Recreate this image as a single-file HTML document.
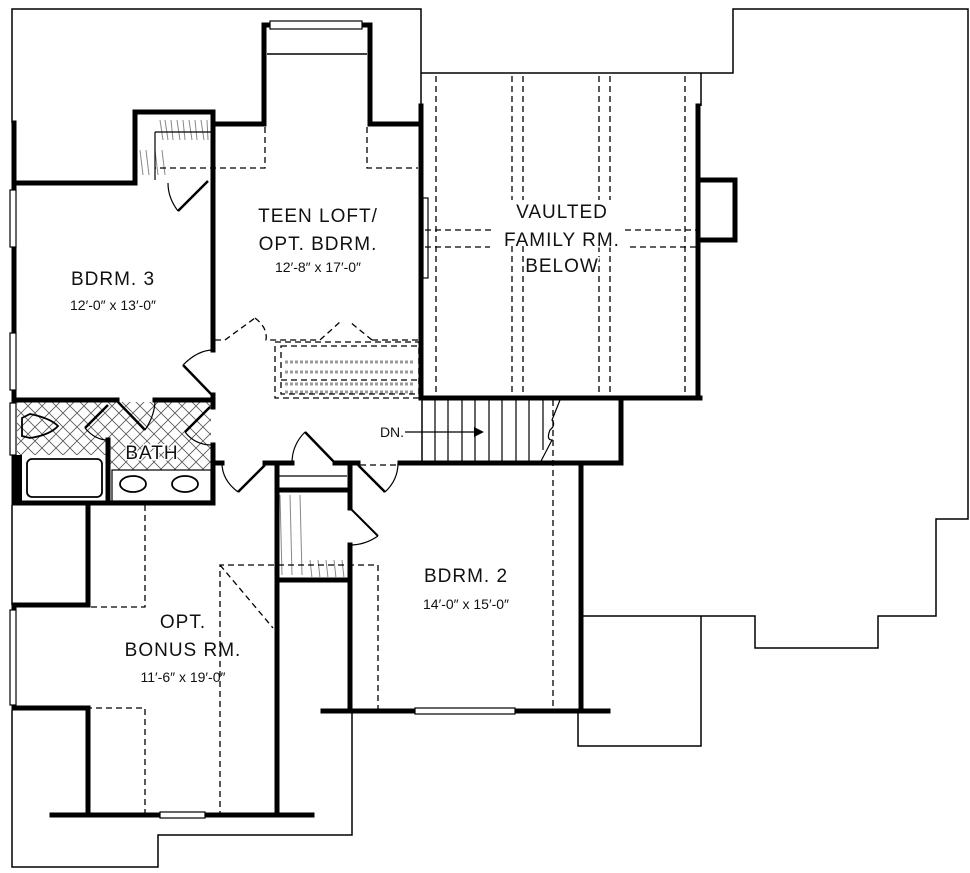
<!DOCTYPE html>
<html><head><meta charset="utf-8"><style>
html,body{margin:0;padding:0;background:#fff;}
svg{display:block;}
text{font-family:"Liberation Sans",sans-serif;fill:#111;}
.big{font-size:19px;letter-spacing:1px;}
.sm{font-size:14px;}
</style></head><body>
<svg width="970" height="873" viewBox="0 0 970 873" xmlns="http://www.w3.org/2000/svg">
<defs>
<pattern id="hx" width="14" height="14" patternUnits="userSpaceOnUse">
<path d="M0 0L14 14M14 0L0 14" stroke="#555" stroke-width="0.8"/>
</pattern>
</defs>
<g fill="none" stroke="#000" stroke-width="1.5">
<polyline points="12,123 12,9 421,9 421,105"/>
<polyline points="421,73 733,73 733,9 968,9 968,519 936,519 936,616 878,616 878,648 755,648 755,616 581,616"/>
<polyline points="701,73 701,106"/>
<polyline points="701,616 701,746 578,746 578,711"/>
<polyline points="12,505 12,605"/>
<polyline points="12,710 12,867 158,867 158,835 352,835 352,711"/>
<line x1="267" y1="54" x2="367" y2="54"/>
<line x1="422" y1="398" x2="422" y2="463"/>
</g>
<rect x="17" y="402" width="194" height="68" fill="url(#hx)"/>
<rect x="17" y="455" width="90" height="46" fill="#fff"/>
<rect x="112" y="470" width="99" height="31" fill="#fff"/>
<g stroke="#000" stroke-width="5" fill="none" stroke-linecap="square">
<polyline points="14,123 14,190"/><polyline points="14,247 14,333"/><polyline points="14,390 14,403"/><polyline points="14,455 14,503"/>
<polyline points="14,183 135,183 135,112 213,112 213,350"/>
<polyline points="213,124 264,124 264,25 270,25"/>
<polyline points="362,25 370,25 370,124 421,124"/>
<polyline points="421,106 421,398 700,398"/>
<polyline points="698,106 698,398"/>
<polyline points="698,180 735,180 735,240 698,240"/>
<polyline points="621,398 621,463 400,463"/>
<polyline points="14,400 117,400"/><polyline points="155,400 213,400 213,407"/>
<polyline points="213,395 213,405"/><polyline points="213,445 213,503 14,503"/>
<polyline points="213,463 222,463"/><polyline points="265,463 292,463"/><polyline points="335,463 358,463"/>
<polyline points="108,440 108,500"/>
<polyline points="88,505 88,605 14,605 14,610"/>
<polyline points="14,705 14,708 88,708 88,815"/>
<polyline points="52,815 160,815"/><polyline points="205,815 312,815"/>
<polyline points="277,463 277,815"/>
<polyline points="277,490 347,490"/><polyline points="277,580 347,580"/>
<polyline points="350,463 350,508"/><polyline points="350,545 350,711"/>
<polyline points="323,711 415,711"/><polyline points="515,711 608,711"/>
<polyline points="581,463 581,711"/>
</g>
<rect x="12" y="455" width="10" height="50" fill="#000"/>
<g fill="#fff" stroke="#000" stroke-width="1.2">
<rect x="270" y="21" width="92" height="8"/>
<rect x="10" y="190" width="6" height="57"/><rect x="10" y="333" width="6" height="57"/><rect x="10" y="403" width="6" height="52"/>
<rect x="10" y="610" width="6" height="95"/>
<rect x="160" y="812" width="45" height="6"/>
<rect x="415" y="708" width="100" height="6"/>
<rect x="423" y="198" width="5" height="80"/>
</g>
<g stroke="#000" stroke-width="1.2" fill="none">
<line x1="278" y1="476" x2="347" y2="476"/>
<rect x="27" y="459" width="75" height="38" rx="5" stroke-width="1.8"/>
<path d="M22 418 L30 414 Q50 418 58 426 Q50 435 30 438 L22 436 Z" stroke-width="1.8"/>
<ellipse cx="133" cy="484" rx="13" ry="8" stroke-width="1.8"/>
<ellipse cx="185" cy="484" rx="13" ry="8" stroke-width="1.8"/>
<rect x="112" y="470" width="99" height="31"/>
<line x1="183" y1="365" x2="212" y2="395" stroke-width="2.5"/><path d="M183 365 Q198 350 213 350"/>
<line x1="118" y1="402" x2="145" y2="430" stroke-width="2.5"/><path d="M145 430 Q155 415 155 400"/>
<line x1="85" y1="428" x2="108" y2="405" stroke-width="2.5"/><path d="M85 428 Q95 440 108 440"/>
<line x1="185" y1="432" x2="210" y2="407" stroke-width="2.5"/><path d="M185 432 Q195 445 212 445"/>
<line x1="238" y1="492" x2="265" y2="465" stroke-width="2.5"/><path d="M238 492 Q222 480 222 463"/>
<line x1="305" y1="432" x2="335" y2="463" stroke-width="2.5"/><path d="M305 432 Q292 445 292 463"/>
<line x1="358" y1="465" x2="385" y2="492" stroke-width="2.5"/><path d="M385 492 Q398 480 398 463"/>
<line x1="350" y1="508" x2="378" y2="536" stroke-width="2"/><path d="M378 536 Q365 545 350 545"/>
<line x1="178" y1="211" x2="208" y2="181" stroke-width="2.5"/><path d="M178 211 Q168 198 168 183"/>
<g stroke-width="1.2">
<line x1="435" y1="400" x2="435" y2="461"/><line x1="448" y1="400" x2="448" y2="461"/><line x1="462" y1="400" x2="462" y2="461"/><line x1="475" y1="400" x2="475" y2="461"/><line x1="489" y1="400" x2="489" y2="461"/><line x1="502" y1="400" x2="502" y2="461"/><line x1="516" y1="400" x2="516" y2="461"/><line x1="529" y1="400" x2="529" y2="461"/><line x1="543" y1="400" x2="543" y2="450"/>
<path d="M560 400 L552 420 Q556 425 550 430 Q546 440 552 440 L540 463"/>
<line x1="405" y1="432" x2="474" y2="432"/>
</g>
</g>
<polygon points="474,427 484,432 474,437" fill="#000"/>
<g stroke="#888" stroke-width="1">
<path d="M160 120 l3 20 M165 120 l3 20 M171 120 l2 20 M177 120 l3 20 M183 120 l2 20 M189 120 l3 20 M195 120 l2 20 M201 120 l3 20 M207 120 l1 20"/>
<path d="M140 150 l3 25 M146 150 l3 25 M155 150 l3 25 M162 150 l3 25"/>
<path d="M280 495 l2 80 M290 495 l2 80 M300 495 l2 80"/>
<path d="M310 560 l2 18 M318 560 l2 18 M326 560 l2 18 M334 560 l2 18 M342 560 l2 18"/>
<path d="M285 362 h130 M285 372 h130 M285 384 h130 M285 392 h130" stroke-dasharray="3 2" stroke-width="3" stroke="#999"/>
</g>
<line x1="155" y1="132" x2="211" y2="132" stroke="#000" stroke-width="1.2"/>
<line x1="155" y1="132" x2="155" y2="180" stroke="#000" stroke-width="1.2"/>
<g stroke="#000" stroke-width="1.3" fill="none" stroke-dasharray="6 4">
<polyline points="265,127 265,168 155,168"/>
<polyline points="367,127 367,168 418,168"/>
<line x1="436" y1="76" x2="436" y2="396"/><line x1="512" y1="76" x2="512" y2="200"/><line x1="523" y1="76" x2="523" y2="200"/>
<line x1="599" y1="76" x2="599" y2="200"/><line x1="610" y1="76" x2="610" y2="200"/><line x1="685" y1="76" x2="685" y2="396"/>
<line x1="512" y1="246" x2="512" y2="396"/><line x1="523" y1="246" x2="523" y2="396"/><line x1="599" y1="246" x2="599" y2="396"/><line x1="610" y1="246" x2="610" y2="396"/>
<line x1="425" y1="230" x2="495" y2="230"/><line x1="625" y1="230" x2="696" y2="230"/>
<line x1="425" y1="247" x2="490" y2="247"/><line x1="630" y1="247" x2="696" y2="247"/>
<rect x="275" y="342" width="144" height="56"/>
<rect x="281" y="346" width="138" height="48"/>
<line x1="281" y1="380" x2="419" y2="380"/>
<polyline points="215,340 225,340 255,318"/>
<path d="M255 318 Q268 328 266 340 L320 340 L340 322"/>
<path d="M372 340 L418 340 M372 340 L350 322"/>
<line x1="553" y1="400" x2="553" y2="711"/>
<polyline points="378,711 378,565 220,565 220,815"/>
<line x1="220" y1="565" x2="273" y2="628"/>
<polyline points="145,505 145,607 88,607"/>
<polyline points="145,815 145,708 88,708"/>
<line x1="360" y1="465" x2="398" y2="465"/>
</g>
<g text-anchor="middle">
<text x="318" y="222" class="big">TEEN LOFT/</text>
<text x="318" y="250" class="big">OPT. BDRM.</text>
<text x="318" y="272" class="sm">12′-8″ x 17′-0″</text>
<text x="113" y="285" class="big">BDRM. 3</text>
<text x="113" y="310" class="sm">12′-0″ x 13′-0″</text>
<text x="562" y="218" class="big" style="paint-order:stroke;stroke:#fff;stroke-width:3px">VAULTED</text>
<text x="562" y="246" class="big" style="paint-order:stroke;stroke:#fff;stroke-width:3px">FAMILY RM.</text>
<text x="562" y="272" class="big" style="paint-order:stroke;stroke:#fff;stroke-width:3px">BELOW</text>
<text x="152" y="459" class="big" style="paint-order:stroke;stroke:#fff;stroke-width:3px">BATH</text>
<text x="466" y="582" class="big">BDRM. 2</text>
<text x="466" y="609" class="sm">14′-0″ x 15′-0″</text>
<text x="183" y="628" class="big">OPT.</text>
<text x="183" y="656" class="big">BONUS RM.</text>
<text x="183" y="682" class="sm">11′-6″ x 19′-0″</text>
<text x="392" y="437" class="sm">DN.</text>
</g>
</svg>
</body></html>
